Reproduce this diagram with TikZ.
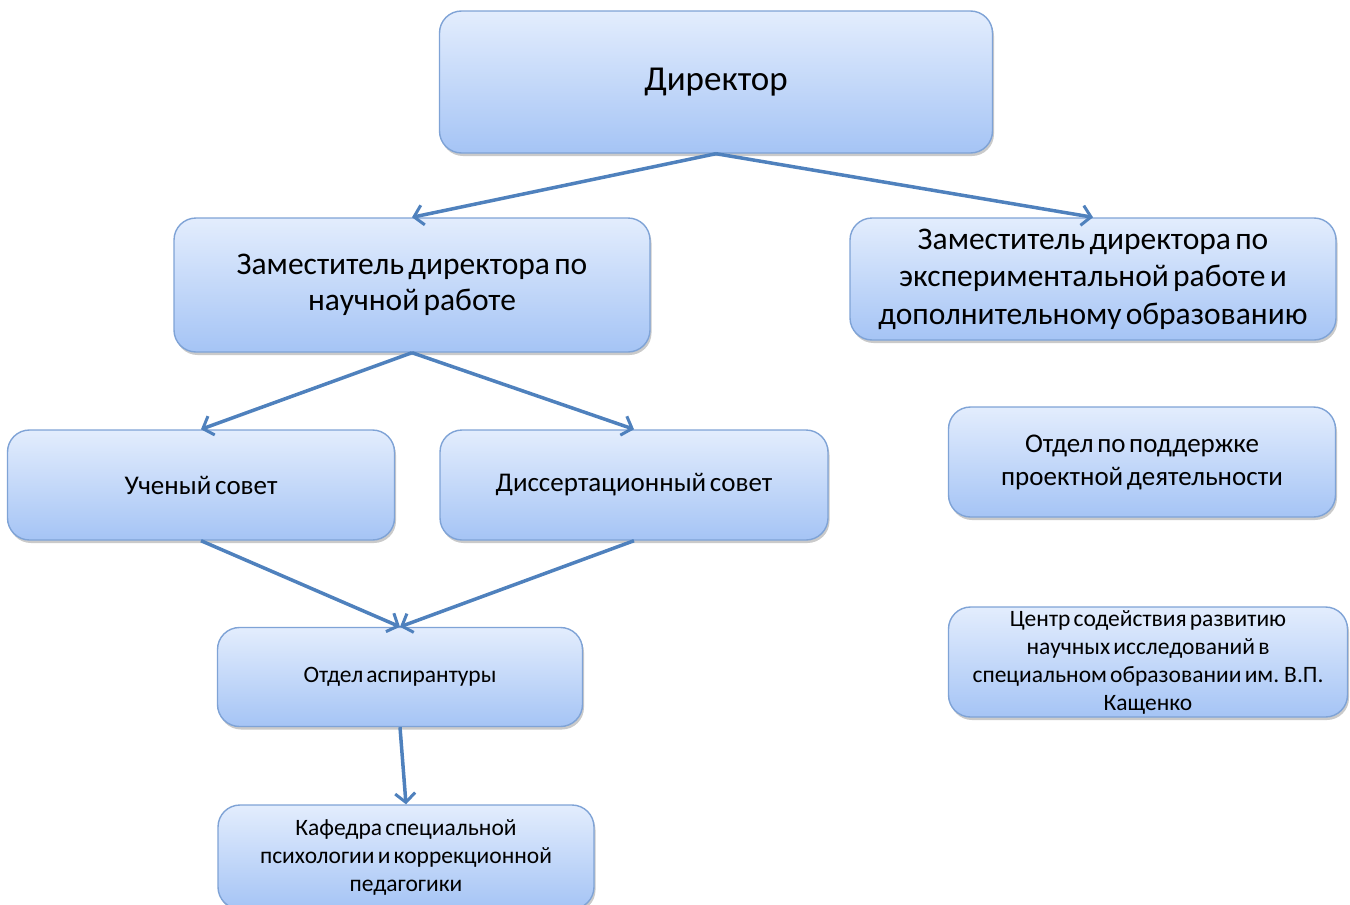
\documentclass[tikz,border=0pt]{standalone}
\usepackage{fontspec}
\setmainfont{Carlito}[WordSpace=0.6]
\usetikzlibrary{arrows.meta,shadows}

\definecolor{boxtop}{HTML}{E3EDFD}
\definecolor{boxbot}{HTML}{A5C4F5}
\definecolor{boxline}{HTML}{7FA3D6}
\definecolor{arrblue}{HTML}{4F81BD}

\begin{document}
\begin{tikzpicture}[x=1pt, y=-1pt,
    unit/.style={rounded corners=22pt, draw=boxline, line width=1.4pt,
      top color=boxtop, bottom color=boxbot, align=center, inner sep=0pt,
      drop shadow={shadow xshift=1.5pt, shadow yshift=-3pt, opacity=.35, fill=black!60}},
    arr/.style={draw=arrblue, line width=3.5pt,
      -{Straight Barb[length=9pt, width=20pt, line width=3pt]}}]

  \clip (0,0) rectangle (1350,905);

  % top
  \node[unit, minimum width=553pt, minimum height=142pt, font=\fontsize{35}{40}\selectfont]
    (dir) at (716,82) {Директор};

  % deputies
  \node[unit, minimum width=476pt, minimum height=134pt, font=\fontsize{31.5}{36}\selectfont]
    (zam1) at (412,285) {Заместитель директора по\\научной работе};
  \node[unit, minimum width=486pt, minimum height=122pt, font=\fontsize{31.5}{37.5}\selectfont]
    (zam2) at (1093,279) {Заместитель директора по\\экспериментальной работе и\\дополнительному образованию};

  % councils
  \node[unit, minimum width=387pt, minimum height=110pt, font=\fontsize{27}{33}\selectfont]
    (uch) at (201,485) {Ученый совет};
  \node[unit, minimum width=388pt, minimum height=110pt, font=\fontsize{27}{33}\selectfont]
    (diss) at (634,485) {Диссертационный совет};

  \node[unit, minimum width=387pt, minimum height=110pt, font=\fontsize{27}{33}\selectfont]
    (proekt) at (1142,462) {Отдел по поддержке\\проектной деятельности};
  \node[unit, minimum width=399pt, minimum height=110pt, font=\fontsize{23.5}{28}\selectfont]
    (centr) at (1148,662) {Центр содействия развитию\\научных исследований в\\специальном образовании им. В.П.\\Кащенко};

  % lower part
  \node[unit, minimum width=365pt, minimum height=99pt, font=\fontsize{23.5}{28}\selectfont]
    (asp) at (400,677) {Отдел аспирантуры};
  \node[unit, minimum width=376pt, minimum height=104pt, font=\fontsize{23.5}{28}\selectfont]
    (kaf) at (406,857) {Кафедра специальной\\психологии и коррекционной\\педагогики};

  % connectors
  \draw[arr] (dir.south) -- (zam1.north);
  \draw[arr] (dir.south) -- (zam2.north);
  \draw[arr] (zam1.south) -- (uch.north);
  \draw[arr] (zam1.south) -- (diss.north);
  \draw[arr] (uch.south) -- (asp.north);
  \draw[arr] (diss.south) -- (asp.north);
  \draw[arr] (asp.south) -- (kaf.north);
\end{tikzpicture}
\end{document}
